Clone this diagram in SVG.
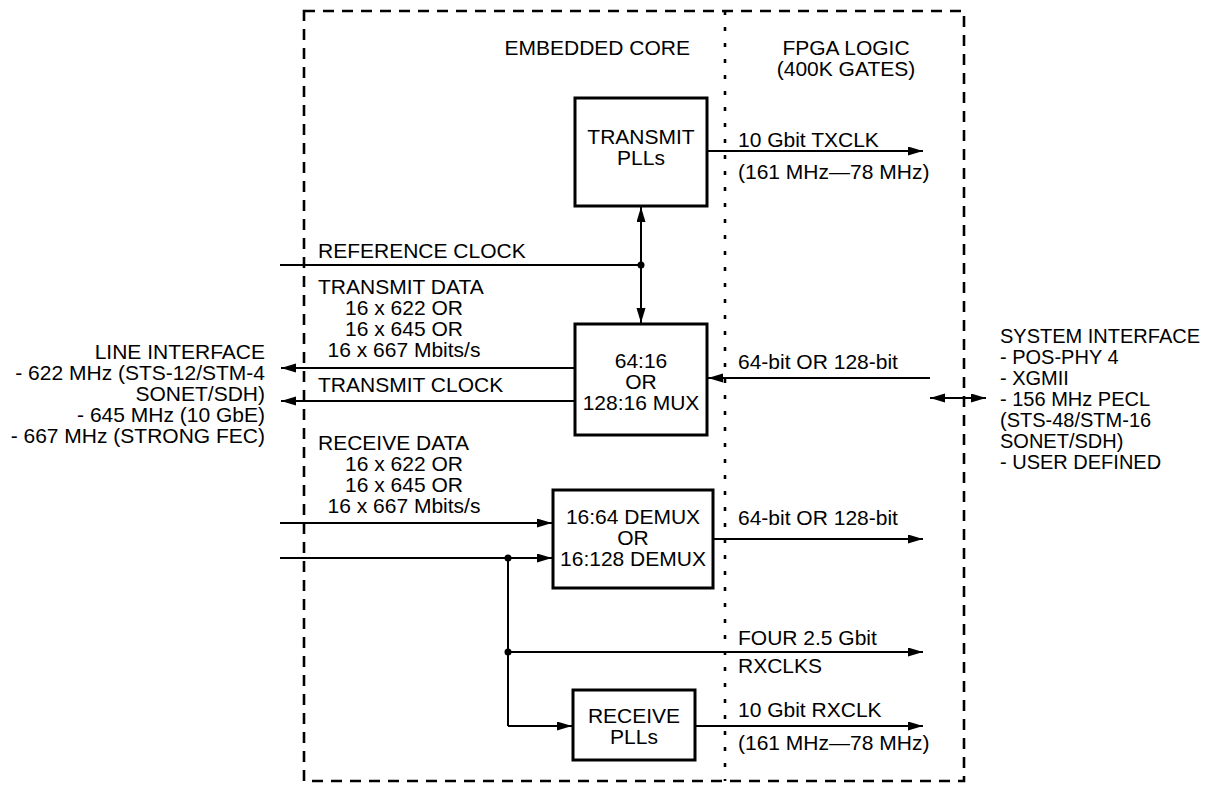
<svg xmlns="http://www.w3.org/2000/svg" width="1225" height="794" viewBox="0 0 1225 794">
<style>
text{font-family:"Liberation Sans",Arial,sans-serif;font-size:21px;fill:#000}
.m{text-anchor:middle}
.e{text-anchor:end}
.s{font-size:20px}
.box{fill:#fff;stroke:#000;stroke-width:3}
.ln{fill:none;stroke:#000;stroke-width:2}
.dash{fill:none;stroke:#000;stroke-width:2.6;stroke-dasharray:11 8}
.dot{fill:none;stroke:#000;stroke-width:2.6;stroke-dasharray:4 12}
</style>
<defs>
<marker id="ah" markerUnits="userSpaceOnUse" markerWidth="16" markerHeight="10" refX="15" refY="4.5" orient="auto-start-reverse">
<path d="M0,0 L15,4.5 L0,9 z" fill="#000"/>
</marker>
</defs>
<g id="frame">
<rect class="dash" x="304" y="11" width="660" height="770"/>
<line class="dot" x1="725" y1="11" x2="725" y2="781"/>
<text x="690" y="55" class="e">EMBEDDED CORE</text>
<text x="846" y="55" class="m">FPGA LOGIC</text>
<text x="846" y="76" class="m">(400K GATES)</text>
</g>
<g id="connectors">
<line class="ln" x1="707" y1="151" x2="923" y2="151" marker-end="url(#ah)"/>
<line class="ln" x1="641" y1="207" x2="641" y2="323" marker-start="url(#ah)" marker-end="url(#ah)"/>
<line class="ln" x1="280" y1="265" x2="641" y2="265"/>
<circle cx="641" cy="265" r="3.5"/>
<line class="ln" x1="575" y1="368" x2="281" y2="368" marker-end="url(#ah)"/>
<line class="ln" x1="575" y1="401" x2="281" y2="401" marker-end="url(#ah)"/>
<line class="ln" x1="930" y1="378" x2="708" y2="378" marker-end="url(#ah)"/>
<line class="ln" x1="930" y1="398" x2="986" y2="398" marker-start="url(#ah)" marker-end="url(#ah)"/>
<line class="ln" x1="280" y1="523" x2="552" y2="523" marker-end="url(#ah)"/>
<line class="ln" x1="280" y1="558" x2="552" y2="558" marker-end="url(#ah)"/>
<circle cx="508" cy="558" r="3.5"/>
<line class="ln" x1="713" y1="539" x2="923" y2="539" marker-end="url(#ah)"/>
<line class="ln" x1="508" y1="558" x2="508" y2="726"/>
<line class="ln" x1="508" y1="652" x2="923" y2="652" marker-end="url(#ah)"/>
<circle cx="508" cy="652" r="3.5"/>
<line class="ln" x1="508" y1="726" x2="572" y2="726" marker-end="url(#ah)"/>
<line class="ln" x1="695" y1="726" x2="923" y2="726" marker-end="url(#ah)"/>
</g>
<g id="labels">
<text x="738" y="147">10 Gbit TXCLK</text>
<text x="738" y="179">(161 MHz—78 MHz)</text>
<text x="318" y="258">REFERENCE CLOCK</text>
<text x="318" y="294">TRANSMIT DATA</text>
<text x="404" y="315" class="m">16 x 622 OR</text>
<text x="404" y="336" class="m">16 x 645 OR</text>
<text x="404" y="357" class="m">16 x 667 Mbits/s</text>
<text x="318" y="392">TRANSMIT CLOCK</text>
<text x="738" y="369">64-bit OR 128-bit</text>
<text x="318" y="450">RECEIVE DATA</text>
<text x="404" y="471" class="m">16 x 622 OR</text>
<text x="404" y="492" class="m">16 x 645 OR</text>
<text x="404" y="513" class="m">16 x 667 Mbits/s</text>
<text x="738" y="525">64-bit OR 128-bit</text>
<text x="738" y="645">FOUR 2.5 Gbit</text>
<text x="738" y="673">RXCLKS</text>
<text x="738" y="717">10 Gbit RXCLK</text>
<text x="738" y="750">(161 MHz—78 MHz)</text>
</g>
<g id="line-interface">
<text x="265" y="359" class="e">LINE INTERFACE</text>
<text x="265" y="380" class="e">- 622 MHz (STS-12/STM-4</text>
<text x="265" y="401" class="e">SONET/SDH)</text>
<text x="265" y="422" class="e">- 645 MHz (10 GbE)</text>
<text x="265" y="443" class="e">- 667 MHz (STRONG FEC)</text>
</g>
<g id="system-interface">
<text x="1000" y="343" class="s">SYSTEM INTERFACE</text>
<text x="1000" y="364" class="s">- POS-PHY 4</text>
<text x="1000" y="385" class="s">- XGMII</text>
<text x="1000" y="406" class="s">- 156 MHz PECL</text>
<text x="1000" y="427" class="s">(STS-48/STM-16</text>
<text x="1000" y="448" class="s">SONET/SDH)</text>
<text x="1000" y="469" class="s">- USER DEFINED</text>
</g>
<g id="transmit-plls">
<rect class="box" x="575" y="98" width="132" height="108"/>
<text x="641" y="144" class="m">TRANSMIT</text>
<text x="641" y="165" class="m">PLLs</text>
</g>
<g id="mux">
<rect class="box" x="575" y="324" width="132" height="111"/>
<text x="641" y="368" class="m">64:16</text>
<text x="641" y="389" class="m">OR</text>
<text x="641" y="410" class="m">128:16 MUX</text>
</g>
<g id="demux">
<rect class="box" x="553" y="490" width="160" height="98"/>
<text x="633" y="524" class="m">16:64 DEMUX</text>
<text x="633" y="545" class="m">OR</text>
<text x="633" y="566" class="m">16:128 DEMUX</text>
</g>
<g id="receive-plls">
<rect class="box" x="573" y="690" width="122" height="70"/>
<text x="634" y="723" class="m">RECEIVE</text>
<text x="634" y="744" class="m">PLLs</text>
</g>
</svg>
